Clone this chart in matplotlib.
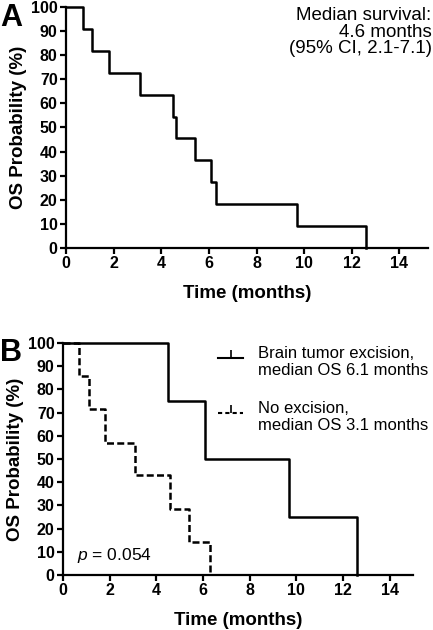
import matplotlib
matplotlib.use("Agg")
import matplotlib.pyplot as plt
from matplotlib.lines import Line2D

plt.rcParams['font.family'] = ['Liberation Sans', 'DejaVu Sans']
plt.rcParams['mathtext.fontset'] = 'custom'
plt.rcParams['mathtext.it'] = 'Liberation Sans:italic'
plt.rcParams['mathtext.rm'] = 'Liberation Sans'

# Panel A: all patients
a_times = [0, 0.7, 1.1, 1.8, 3.1, 4.5, 4.6, 5.4, 6.1, 6.3, 9.7, 12.6]
a_surv = [100, 90.9, 81.8, 72.7, 63.6, 54.5, 45.5, 36.4, 27.3, 18.2, 9.1, 0]

# Panel B: by brain tumor excision
exc_times = [0, 4.5, 6.1, 9.7, 12.6]
exc_surv = [100, 75, 50, 25, 0]
noexc_times = [0, 0.7, 1.1, 1.8, 3.1, 4.6, 5.4, 6.3]
noexc_surv = [100, 85.7, 71.4, 57.1, 42.9, 28.6, 14.3, 0]

y_ticks = list(range(0, 101, 10))
x_ticks = list(range(0, 15, 2))

W, H = 433, 630
LW = 1.8
fig = plt.figure(figsize=(W / 100, H / 100), dpi=100)


def px_axes(left, right, top, bottom):
    return fig.add_axes([left / W, 1 - bottom / H, (right - left) / W, (bottom - top) / H])


def style(ax, xmax):
    ax.set_xlim(0, xmax)
    ax.set_ylim(0, 100)
    ax.set_xticks(x_ticks)
    ax.set_yticks(y_ticks)
    for s in ['top', 'right']:
        ax.spines[s].set_visible(False)
    for s in ['left', 'bottom']:
        ax.spines[s].set_linewidth(1.6)
    ax.tick_params(direction='out', length=4, width=1.6, labelsize=11.5, pad=2)
    for lab in ax.get_xticklabels() + ax.get_yticklabels():
        lab.set_fontweight('bold')
    ax.set_xlabel('Time (months)', fontsize=13.5, fontweight='bold', labelpad=10)
    ax.set_ylabel('OS Probability (%)', fontsize=13.5, fontweight='bold', labelpad=3)
    ax.patch.set_alpha(0)


# Panel A
axA = px_axes(66, 428, 7, 248)
axA.step(a_times, a_surv, where='post', color='black', lw=LW, clip_on=False)
style(axA, 15.2)
axA.text(1.01, 1.0, 'Median survival:\n4.6 months\n(95% CI, 2.1-7.1)', transform=axA.transAxes,
         ha='right', va='top', fontsize=13.5, linespacing=0.98)
fig.text(0.0, 1 - 3 / H, 'A', fontsize=22, fontweight='bold', ha='left', va='top')

# Panel B
axB = px_axes(63, 413, 343, 575)
axB.step(exc_times, exc_surv, where='post', color='black', lw=LW, clip_on=False)
axB.step(noexc_times, noexc_surv, where='post', color='black', lw=LW, ls=(0, (2.8, 1.3)), clip_on=False)
style(axB, 15)
axB.text(0.04, 0.085, r'$p$ = 0.054', transform=axB.transAxes, fontsize=12.5, ha='left', va='center')
handles = [Line2D([], [], color='black', lw=1.5, marker=2, markersize=6, markeredgewidth=1.2),
           Line2D([], [], color='black', lw=1.5, ls=(0, (2, 1.5)), marker=2, markersize=6, markeredgewidth=1.2)]
labels = ['Brain tumor excision,\nmedian OS 6.1 months', 'No excision,\nmedian OS 3.1 months']
axB.legend(handles, labels, loc='upper left', bbox_to_anchor=(0.443, 0.988), frameon=False,
           fontsize=12, handlelength=1.5, handleheight=2.4, handletextpad=0.9, labelspacing=1.35,
           borderpad=0, borderaxespad=0, numpoints=1)
fig.text(0.0, 1 - 338 / H, 'B', fontsize=22, fontweight='bold', ha='left', va='top')

fig.savefig('out.png', dpi=100)
